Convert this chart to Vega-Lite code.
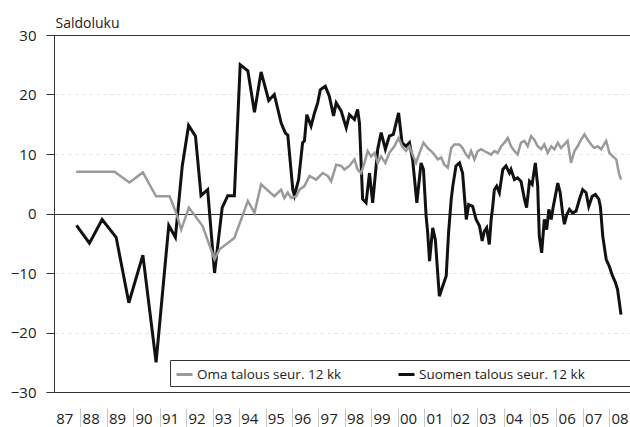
{
  "$schema": "https://vega.github.io/schema/vega-lite/v6.json",
  "width": 576,
  "height": 357,
  "autosize": {"type": "none"},
  "padding": {"left": 54, "top": 35, "right": 0, "bottom": 35},
  "background": "white",
  "config": {"font": "Open Sans", "view": {"stroke": null}},
  "datasets": {
    "suomi": [
      {"year": 1987.85, "value": -2}, {"year": 1988.34, "value": -5}, {"year": 1988.82, "value": -1}, {"year": 1989.35, "value": -4},
      {"year": 1989.83, "value": -15}, {"year": 1990.36, "value": -7}, {"year": 1990.86, "value": -25}, {"year": 1991.34, "value": -2},
      {"year": 1991.59, "value": -4}, {"year": 1991.85, "value": 8}, {"year": 1992.09, "value": 14.8}, {"year": 1992.35, "value": 13},
      {"year": 1992.56, "value": 3}, {"year": 1992.81, "value": 4}, {"year": 1993.07, "value": -10}, {"year": 1993.36, "value": 1},
      {"year": 1993.57, "value": 3}, {"year": 1993.82, "value": 3}, {"year": 1994.04, "value": 25}, {"year": 1994.33, "value": 24},
      {"year": 1994.58, "value": 17}, {"year": 1994.83, "value": 23.8}, {"year": 1995.12, "value": 19}, {"year": 1995.33, "value": 20},
      {"year": 1995.59, "value": 15.2}, {"year": 1995.75, "value": 13.5}, {"year": 1995.84, "value": 13.2}, {"year": 1996.03, "value": 4},
      {"year": 1996.09, "value": 3}, {"year": 1996.25, "value": 5.7}, {"year": 1996.40, "value": 11.9}, {"year": 1996.47, "value": 12.2},
      {"year": 1996.56, "value": 16.6}, {"year": 1996.72, "value": 14.7}, {"year": 1996.85, "value": 16.9}, {"year": 1996.97, "value": 18.6},
      {"year": 1997.07, "value": 20.8}, {"year": 1997.16, "value": 21.1}, {"year": 1997.26, "value": 21.4}, {"year": 1997.41, "value": 19.7},
      {"year": 1997.57, "value": 16.4}, {"year": 1997.67, "value": 18.6}, {"year": 1997.86, "value": 17.2}, {"year": 1998.05, "value": 14.4},
      {"year": 1998.17, "value": 16.6}, {"year": 1998.36, "value": 15.8}, {"year": 1998.48, "value": 17.5}, {"year": 1998.55, "value": 15.2},
      {"year": 1998.67, "value": 2.4}, {"year": 1998.80, "value": 1.8}, {"year": 1998.93, "value": 6.8}, {"year": 1999.05, "value": 1.8},
      {"year": 1999.24, "value": 10.8}, {"year": 1999.37, "value": 13.6}, {"year": 1999.53, "value": 10.8}, {"year": 1999.68, "value": 13},
      {"year": 1999.83, "value": 13.3}, {"year": 2000.03, "value": 16.9}, {"year": 2000.16, "value": 11.9}, {"year": 2000.31, "value": 11.3},
      {"year": 2000.44, "value": 11.9}, {"year": 2000.56, "value": 9.1}, {"year": 2000.72, "value": 1.8}, {"year": 2000.88, "value": 8.5},
      {"year": 2000.97, "value": 7.4}, {"year": 2001.07, "value": -0.4}, {"year": 2001.13, "value": -3.2}, {"year": 2001.20, "value": -8},
      {"year": 2001.32, "value": -2.4}, {"year": 2001.42, "value": -4.4}, {"year": 2001.57, "value": -13.9}, {"year": 2001.70, "value": -12.2},
      {"year": 2001.83, "value": -10.5}, {"year": 2001.92, "value": -3.2}, {"year": 2002.02, "value": 2.4}, {"year": 2002.08, "value": 4.6},
      {"year": 2002.20, "value": 8}, {"year": 2002.33, "value": 8.5}, {"year": 2002.45, "value": 6.8}, {"year": 2002.54, "value": 1.8},
      {"year": 2002.59, "value": -1}, {"year": 2002.68, "value": 1.5}, {"year": 2002.83, "value": 1.2}, {"year": 2002.96, "value": -1},
      {"year": 2003.09, "value": -2.1}, {"year": 2003.19, "value": -4.6}, {"year": 2003.27, "value": -3}, {"year": 2003.36, "value": -2.4},
      {"year": 2003.46, "value": -5.2}, {"year": 2003.53, "value": -1}, {"year": 2003.59, "value": 1.2}, {"year": 2003.65, "value": 4},
      {"year": 2003.74, "value": 4.6}, {"year": 2003.84, "value": 3.5}, {"year": 2003.97, "value": 7.4}, {"year": 2004.09, "value": 8},
      {"year": 2004.22, "value": 6.8}, {"year": 2004.28, "value": 7.4}, {"year": 2004.41, "value": 5.7}, {"year": 2004.53, "value": 6},
      {"year": 2004.66, "value": 5.4}, {"year": 2004.79, "value": 2.4}, {"year": 2004.87, "value": 1}, {"year": 2004.98, "value": 5.4},
      {"year": 2005.08, "value": 4.9}, {"year": 2005.20, "value": 8.5}, {"year": 2005.29, "value": 4.6}, {"year": 2005.35, "value": -3.8},
      {"year": 2005.44, "value": -6.6}, {"year": 2005.54, "value": -1}, {"year": 2005.63, "value": -2.7}, {"year": 2005.71, "value": 0.7},
      {"year": 2005.80, "value": -1}, {"year": 2005.88, "value": 1.2}, {"year": 2006.05, "value": 5.1}, {"year": 2006.14, "value": 3.5},
      {"year": 2006.23, "value": 0.1}, {"year": 2006.30, "value": -1.8}, {"year": 2006.39, "value": -0.2}, {"year": 2006.49, "value": 0.7},
      {"year": 2006.61, "value": 0.1}, {"year": 2006.74, "value": 0.4}, {"year": 2006.87, "value": 2.4}, {"year": 2006.99, "value": 4},
      {"year": 2007.12, "value": 3.5}, {"year": 2007.22, "value": 1.2}, {"year": 2007.35, "value": 2.9}, {"year": 2007.47, "value": 3.2},
      {"year": 2007.60, "value": 2.4}, {"year": 2007.66, "value": 1.2}, {"year": 2007.75, "value": -3.8}, {"year": 2007.88, "value": -7.7},
      {"year": 2008.00, "value": -8.9}, {"year": 2008.12, "value": -10.5}, {"year": 2008.23, "value": -11.6}, {"year": 2008.31, "value": -12.8},
      {"year": 2008.44, "value": -17}
    ],
    "oma": [
      {"year": 1987.84, "value": 7}, {"year": 1989.29, "value": 7}, {"year": 1989.85, "value": 5.2}, {"year": 1990.36, "value": 6.9},
      {"year": 1990.86, "value": 2.9}, {"year": 1991.37, "value": 2.9}, {"year": 1991.62, "value": 0.1}, {"year": 1991.81, "value": -2.7},
      {"year": 1992.10, "value": 1}, {"year": 1992.62, "value": -2.1}, {"year": 1993.07, "value": -7.7}, {"year": 1993.26, "value": -6},
      {"year": 1993.82, "value": -4.1}, {"year": 1994.33, "value": 2.1}, {"year": 1994.58, "value": 0.1}, {"year": 1994.83, "value": 4.9},
      {"year": 1995.33, "value": 2.9}, {"year": 1995.59, "value": 4}, {"year": 1995.71, "value": 2.6}, {"year": 1995.84, "value": 3.5},
      {"year": 1995.97, "value": 2.6}, {"year": 1996.16, "value": 2.9}, {"year": 1996.28, "value": 4}, {"year": 1996.47, "value": 4.6},
      {"year": 1996.66, "value": 6.3}, {"year": 1996.91, "value": 5.7}, {"year": 1997.16, "value": 6.8}, {"year": 1997.35, "value": 6.3},
      {"year": 1997.48, "value": 5.4}, {"year": 1997.67, "value": 8.2}, {"year": 1997.86, "value": 8}, {"year": 1997.98, "value": 7.4},
      {"year": 1998.17, "value": 8}, {"year": 1998.36, "value": 9.1}, {"year": 1998.48, "value": 7.4}, {"year": 1998.61, "value": 6.8},
      {"year": 1998.74, "value": 8.5}, {"year": 1998.86, "value": 10.5}, {"year": 1998.99, "value": 9.6}, {"year": 1999.12, "value": 10.2},
      {"year": 1999.24, "value": 8.5}, {"year": 1999.37, "value": 9.6}, {"year": 1999.53, "value": 8.5}, {"year": 1999.68, "value": 10.2},
      {"year": 1999.87, "value": 11.3}, {"year": 2000.03, "value": 12.7}, {"year": 2000.16, "value": 11.3}, {"year": 2000.31, "value": 10.5},
      {"year": 2000.44, "value": 11.3}, {"year": 2000.56, "value": 9.9}, {"year": 2000.69, "value": 8.5}, {"year": 2000.82, "value": 10.2},
      {"year": 2000.97, "value": 11.9}, {"year": 2001.13, "value": 11}, {"year": 2001.26, "value": 10.5}, {"year": 2001.38, "value": 9.9},
      {"year": 2001.51, "value": 9.1}, {"year": 2001.64, "value": 9.4}, {"year": 2001.76, "value": 8.2}, {"year": 2001.89, "value": 7.7},
      {"year": 2002.02, "value": 11}, {"year": 2002.14, "value": 11.6}, {"year": 2002.33, "value": 11.6}, {"year": 2002.45, "value": 11},
      {"year": 2002.58, "value": 9.9}, {"year": 2002.68, "value": 9.4}, {"year": 2002.77, "value": 10.5}, {"year": 2002.90, "value": 9.1},
      {"year": 2003.02, "value": 10.5}, {"year": 2003.15, "value": 10.8}, {"year": 2003.27, "value": 10.5}, {"year": 2003.40, "value": 10.2},
      {"year": 2003.53, "value": 9.9}, {"year": 2003.65, "value": 10.5}, {"year": 2003.78, "value": 10.2}, {"year": 2003.91, "value": 11.3},
      {"year": 2004.03, "value": 11.9}, {"year": 2004.16, "value": 12.7}, {"year": 2004.28, "value": 11.3}, {"year": 2004.41, "value": 10.5},
      {"year": 2004.53, "value": 9.9}, {"year": 2004.66, "value": 11.9}, {"year": 2004.79, "value": 12.2}, {"year": 2004.91, "value": 11.3},
      {"year": 2005.04, "value": 13}, {"year": 2005.16, "value": 12.4}, {"year": 2005.29, "value": 11.3}, {"year": 2005.42, "value": 10.8},
      {"year": 2005.54, "value": 11.6}, {"year": 2005.67, "value": 10.2}, {"year": 2005.80, "value": 11.3}, {"year": 2005.92, "value": 10.8},
      {"year": 2006.05, "value": 11.9}, {"year": 2006.17, "value": 11}, {"year": 2006.30, "value": 11.6}, {"year": 2006.42, "value": 12.2},
      {"year": 2006.55, "value": 8.5}, {"year": 2006.68, "value": 10.5}, {"year": 2006.80, "value": 11.3}, {"year": 2006.93, "value": 12.4},
      {"year": 2007.06, "value": 13.3}, {"year": 2007.18, "value": 12.4}, {"year": 2007.31, "value": 11.6}, {"year": 2007.43, "value": 11},
      {"year": 2007.56, "value": 11.3}, {"year": 2007.69, "value": 10.8}, {"year": 2007.88, "value": 12.2}, {"year": 2008.00, "value": 10.2},
      {"year": 2008.13, "value": 9.6}, {"year": 2008.26, "value": 9.1}, {"year": 2008.36, "value": 6.8}, {"year": 2008.44, "value": 5.7}
    ]
  },
  "encoding": {
    "x": {
      "field": "year", "type": "quantitative",
      "scale": {"domain": [1987, 2008.78], "nice": false, "zero": false},
      "axis": {
        "title": null, "domain": false, "grid": false, "offset": 16,
        "values": [1987.5, 1988, 1988.5, 1989, 1989.5, 1990, 1990.5, 1991, 1991.5, 1992, 1992.5, 1993, 1993.5, 1994, 1994.5, 1995, 1995.5, 1996, 1996.5, 1997, 1997.5, 1998, 1998.5, 1999, 1999.5, 2000, 2000.5, 2001, 2001.5, 2002, 2002.5, 2003, 2003.5, 2004, 2004.5, 2005, 2005.5, 2006, 2006.5, 2007, 2007.5, 2008, 2008.5],
        "labelExpr": "datum.value % 1 == 0 ? '' : slice('0' + (floor(datum.value) % 100), -2)",
        "tickSize": 20, "tickColor": "#c8c8c8", "tickWidth": 1,
        "tickOpacity": {"condition": {"test": "datum.value % 1 != 0", "value": 0}, "value": 1},
        "labelBaseline": "middle", "labelPadding": -9.5, "labelFontSize": 15, "labelColor": "#222", "labelOffset": -3,
        "labelOverlap": false, "labelFlush": false
      }
    },
    "y": {
      "field": "value", "type": "quantitative",
      "scale": {"domain": [-30, 30], "nice": false},
      "axis": {
        "title": "Saldoluku", "titleAngle": 0, "titleAlign": "left", "titleBaseline": "alphabetic",
        "titleX": 1, "titleY": -8, "titleFontSize": 14, "titleFontWeight": "normal", "titleColor": "#222",
        "values": [-30, -20, -10, 0, 10, 20, 30],
        "domain": true, "domainColor": "#333", "tickColor": "#333", "tickSize": 8,
        "labelFontSize": 15, "labelPadding": 10, "labelColor": "#222",
        "grid": true,
        "gridColor": {"condition": {"test": "datum.value % 30 == 0", "value": "#333"}, "value": "#e2e2e2"},
        "gridDash": {"condition": {"test": "datum.value % 30 == 0", "value": []}, "value": [3, 4]}
      }
    },
    "color": {
      "field": "series", "type": "nominal",
      "scale": {"domain": ["Oma talous seur. 12 kk", "Suomen talous seur. 12 kk"], "range": ["#9a9a9a", "#111111"]},
      "legend": {
        "orient": "none", "legendX": 116, "legendY": 325, "direction": "horizontal", "title": null,
        "strokeColor": "#333", "fillColor": "white", "padding": 5,
        "symbolType": "stroke", "symbolSize": 256, "symbolStrokeWidth": 3,
        "labelFontSize": 13.5, "labelOffset": 3, "columnPadding": 50, "labelLimit": 400, "labelColor": "#222",
        "labelExpr": "datum.label == 'Suomen talous seur. 12 kk' ? datum.label + '\u2003\u2003\u2003\u00a0\u200b' : datum.label"
      }
    }
  },
  "layer": [
    {
      "data": {"name": "suomi"},
      "transform": [{"calculate": "'Suomen talous seur. 12 kk'", "as": "series"}],
      "mark": {"type": "line", "strokeWidth": 3}
    },
    {
      "data": {"name": "oma"},
      "transform": [{"calculate": "'Oma talous seur. 12 kk'", "as": "series"}],
      "mark": {"type": "line", "strokeWidth": 2.5}
    }
  ]
}
